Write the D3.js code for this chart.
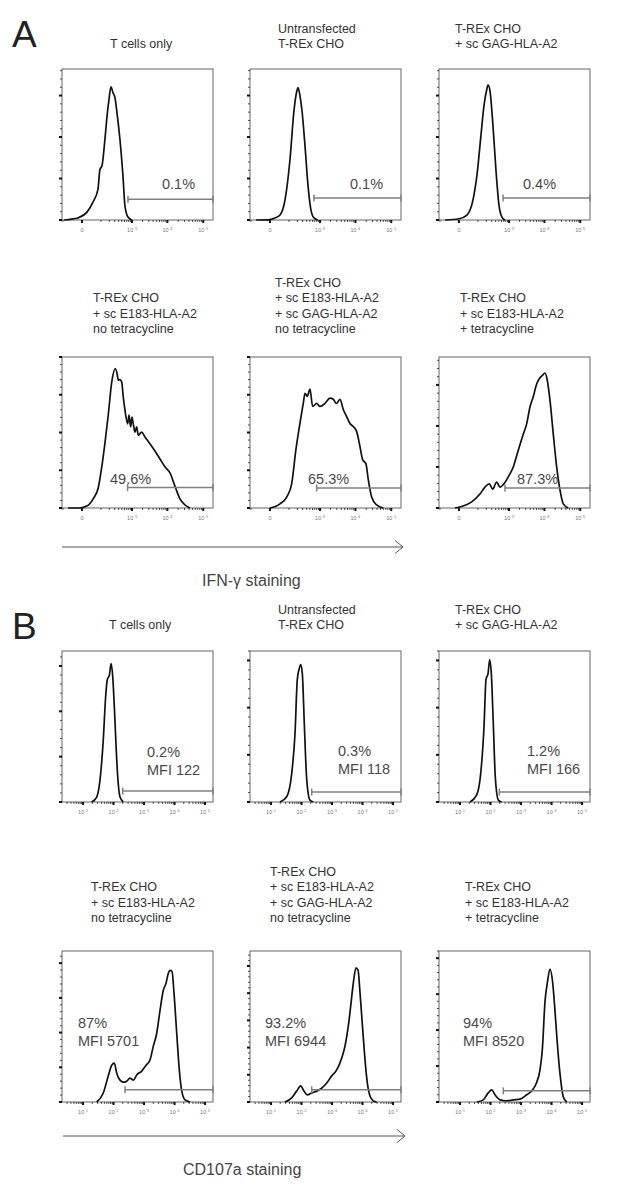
<!DOCTYPE html>
<html>
<head>
<meta charset="utf-8">
<script src="https://cdn.jsdelivr.net/npm/d3@7"></script>
<style>
body { margin: 0; background: #fff; }
svg { display: block; font-family: "Liberation Sans", Arial, sans-serif; }
</style>
</head>
<body>
<svg id="chart" width="625" height="1186"></svg>
<script>
// panel titles (same six conditions in both blocks)
const titles = [
    ["T cells only"],
    ["Untransfected", "T-REx CHO"],
    ["T-REx CHO", "+ sc GAG-HLA-A2"],
    ["T-REx CHO", "+ sc E183-HLA-A2", "no tetracycline"],
    ["T-REx CHO", "+ sc E183-HLA-A2", "+ sc GAG-HLA-A2", "no tetracycline"],
    ["T-REx CHO", "+ sc E183-HLA-A2", "+ tetracycline"]
]

// IFN-g histograms: [fluorescence, count in y-tick units]
const ifnTcells = [[-90,0],[-40,0.02],[-13,0.05],[16,0.19],[43,0.43],[75,0.74],[91,1.22],[109,1.3],[141,1.94],[167,2.49],[195,2.9],[228,3.21],[264,3.07],[306,2.95],[354,2.59],[438,1.94],[540,1.06],[619,0.34],[759,0.07],[994,0]]
const ifnUntransfected = [[-60,0],[0,0.01],[16,0.05],[38,0.12],[68,0.48],[109,1.44],[154,2.64],[195,3.12],[211,3.19],[245,3.0],[285,2.64],[354,1.8],[438,0.84],[540,0.24],[664,0.05],[860,0]]
const ifnGag = [[-60,0],[0,0.03],[28,0.12],[61,0.48],[91,1.08],[130,2.04],[167,2.76],[211,3.17],[228,3.26],[264,3.12],[329,2.28],[408,1.2],[504,0.36],[619,0.07],[759,0]]
const ifnE183 = [[-60,0],[-6,0],[15,0.05],[45,0.25],[77,0.53],[106,1.06],[141,1.72],[185,2.47],[240,3.32],[313,3.69],[362,3.53],[388,3.39],[438,3.4],[493,3.34],[551,2.94],[619,2.59],[745,2.23],[813,2.46],[911,2.15],[994,2.41],[1084,2.23],[1213,2.01],[1357,2.15],[1508,1.93],[1886,2.01],[2340,1.88],[2722,1.8],[3243,1.7],[4480,1.51],[6190,1.3],[8550,1.09],[11790,0.93],[16260,0.58],[22430,0.24],[30910,0.08],[42620,0]]
const ifnE183Gag = [[0,0],[38,0.11],[81,0.29],[127,0.64],[180,1.55],[245,2.24],[313,2.77],[354,3.04],[417,2.96],[504,3.15],[606,2.69],[796,2.77],[994,2.69],[1385,2.77],[1924,2.91],[2385,2.88],[2935,2.77],[3690,2.88],[4570,2.61],[5650,2.43],[7040,2.24],[8670,2.16],[10800,2.03],[13400,1.63],[15960,1.28],[19700,1.17],[22900,0.75],[28400,0.29],[39200,0.08],[59900,0]]
const ifnTet = [[-12,0],[13,0.05],[53,0.15],[119,0.34],[180,0.51],[251,0.59],[322,0.46],[429,0.63],[540,0.51],[710,0.59],[950,0.76],[1323,1.0],[1840,1.41],[2550,1.8],[3180,2.05],[3940,2.46],[4870,2.71],[6070,3.02],[7180,3.15],[8940,3.24],[10370,3.29],[12000,3.12],[14300,2.63],[17700,1.8],[22000,1.0],[27200,0.44],[33600,0.1],[46300,0]]

// CD107a histograms
const cdTcells = [[19.2,0],[28,0.11],[36,0.49],[46,1.37],[55,2.32],[62,2.69],[73,2.8],[83,3.05],[94,2.76],[106,2.1],[120,1.28],[137,0.55],[163,0.11],[209,0]]
const cdUntransfected = [[19.7,0],[32.6,0.11],[47.5,0.6],[61,1.45],[72.6,2.6],[84.4,2.83],[93.8,2.91],[106,2.72],[123,1.66],[148,0.47],[189,0.04],[243,0]]
const cdGag = [[21.2,0],[35.2,0.15],[47.5,0.6],[61,1.6],[71,2.6],[82.6,2.72],[93.8,3.02],[106,2.72],[123,1.66],[143,0.53],[180,0.04],[232,0]]
const cdE183 = [[28,0],[46,0.26],[67,0.75],[87,1.06],[106,1.12],[127,0.83],[163,0.63],[209,0.57],[270,0.6],[346,0.69],[444,0.63],[574,0.78],[838,0.89],[1159,1.06],[1567,1.21],[2010,1.61],[2600,1.98],[3334,2.64],[4276,3.22],[5250,3.42],[6240,3.71],[7100,3.79],[8260,3.76],[9600,3.13],[11770,1.98],[14320,0.92],[17180,0.32],[22030,0.06],[32140,0]]
const cdE183Gag = [[28.7,0],[47.5,0.15],[69,0.4],[93.8,0.59],[120,0.4],[154,0.26],[215,0.33],[314,0.4],[458,0.51],[668,0.7],[975,0.96],[1422,1.18],[2075,1.62],[2660,2.06],[3410,2.79],[4090,3.53],[4980,4.38],[6100,4.93],[7100,4.85],[8260,4.01],[10120,2.65],[12050,1.54],[14320,0.7],[17540,0.22],[22540,0.04],[29100,0]]
const cdTet = [[35.2,0],[57.8,0.06],[78.3,0.22],[109,0.34],[140,0.2],[204,0.06],[338,0.03],[557,0.06],[925,0.08],[1532,0.2],[2234,0.31],[3090,0.5],[4180,0.9],[4980,1.46],[6100,2.8],[7260,3.31],[8890,3.7],[10900,3.31],[12980,2.52],[15100,1.74],[18930,0.78],[24300,0.14],[31400,0]]

// y axis top per panel, in tick units
const ifnYMax = [3.64, 3.64, 3.64, 4.0, 4.0, 3.68]
const cdYMax = [3.33, 3.2, 3.2, 4.35, 5.55, 4.2]

// gates: start value and count level
const ifnGateStart = [760, 665, 665, 740, 796, 760]
const ifnGateLevel = [0.5, 0.53, 0.53, 0.54, 0.53, 0.49]
const cdGateStart = [200, 215, 194, 238, 215, 262]
const cdGateLevel = [0.24, 0.21, 0.21, 0.35, 0.45, 0.31]

const ifnPercent = ["0.1%", "0.1%", "0.4%", "49.6%", "65.3%", "87.3%"]
const cdPercent = ["0.2%", "0.3%", "1.2%", "87%", "93.2%", "94%"]
const cdMfi = ["MFI 122", "MFI 118", "MFI 166", "MFI 5701", "MFI 6944", "MFI 8520"]

const biexTicks = [0, 1e3, 1e4, 1e5]
const logTicks = [10, 100, 1e3, 1e4, 1e5]

// layout
const cols = [62, 250, 439]
const frameW = 151
const frameH = 151

const svg = d3.select('#chart')

class FlowPanel {
    constructor(x0, top, xScale, yMax) {
        this.x0 = x0
        this.top = top
        this.bottom = top + frameH
        this.x = xScale.copy().range([x0, x0 + frameW])
        this.y = d3.scaleLinear().domain([0, yMax]).range([this.bottom, top])
        this.g = svg.append('g')
    }
    renderFrame() {
        this.g.append('rect')
        .attr('x', this.x0)
        .attr('y', this.top)
        .attr('width', frameW)
        .attr('height', frameH)
        .attr('fill', 'none')
        .attr('stroke', '#555')
        .attr('stroke-width', 0.9)
    }
    renderYTicks() {
        const hi = this.y.domain()[1]
        const all = d3.range(0, hi + 1e-6, 0.2)
        const minor = all.filter(d => Math.abs(d - Math.round(d)) > 1e-6)
        const major = all.filter(d => Math.abs(d - Math.round(d)) <= 1e-6)
        this.g.append('g').selectAll('line').data(minor).join('line')
        .attr('x1', this.x0 - 2).attr('x2', this.x0)
        .attr('y1', d => this.y(d)).attr('y2', d => this.y(d))
        .attr('stroke', '#222').attr('stroke-width', 0.8)
        this.g.append('g').selectAll('line').data(major).join('line')
        .attr('x1', this.x0 - 3).attr('x2', this.x0)
        .attr('y1', d => this.y(d)).attr('y2', d => this.y(d))
        .attr('stroke', '#111').attr('stroke-width', 2)
    }
    renderXTicks(major, minor) {
        const [d0, d1] = this.x.domain()
        const inside = d => d >= d0 && d <= d1
        this.g.append('g').selectAll('line').data(minor.filter(inside)).join('line')
        .attr('x1', d => this.x(d)).attr('x2', d => this.x(d))
        .attr('y1', this.bottom).attr('y2', this.bottom + 2)
        .attr('stroke', '#222').attr('stroke-width', 0.8)
        this.g.append('g').selectAll('line').data(major).join('line')
        .attr('x1', d => this.x(d)).attr('x2', d => this.x(d))
        .attr('y1', this.bottom).attr('y2', this.bottom + 3)
        .attr('stroke', '#111').attr('stroke-width', 2)
        this.g.append('g').selectAll('text').data(major).join('text')
        .attr('x', d => this.x(d))
        .attr('y', this.bottom + 12)
        .attr('text-anchor', 'middle')
        .attr('font-size', 5.5)
        .attr('fill', '#777')
        .each(function(d) {
            const el = d3.select(this)
            if (d === 0) { el.text('0'); return }
            el.append('tspan').text('10 ')
            el.append('tspan').attr('dy', -2.5).attr('font-size', 4).text(Math.round(Math.log10(d)))
        })
    }
    renderCurve(points) {
        const line = d3.line()
        .x(d => this.x(d[0]))
        .y(d => this.y(d[1]))
        .curve(d3.curveMonotoneX)
        this.g.append('path')
        .attr('d', line(points))
        .attr('fill', 'none')
        .attr('stroke', '#111')
        .attr('stroke-width', 1.7)
        .attr('stroke-linejoin', 'round')
    }
    renderGate(start, level) {
        const x1 = this.x(start)
        const x2 = this.x(this.x.domain()[1])
        const yy = this.y(level)
        const gate = this.g.append('g')
        .attr('stroke', '#808080')
        .attr('stroke-width', 1.5)
        gate.append('line').attr('x1', x1).attr('x2', x2).attr('y1', yy).attr('y2', yy)
        gate.append('line').attr('x1', x1).attr('x2', x1).attr('y1', yy - 3.5).attr('y2', yy + 3.5)
        gate.append('line').attr('x1', x2).attr('x2', x2).attr('y1', yy - 3.5).attr('y2', yy + 3.5)
    }
    renderLabel(lines, dx, dy) {
        this.g.append('g').selectAll('text').data(lines).join('text')
        .attr('x', this.x0 + dx)
        .attr('y', (d, i) => this.top + dy + i * 17.5)
        .attr('font-size', 14.5)
        .attr('fill', '#4a4a4a')
        .text(d => d)
    }
}

function renderTitle(lines, x, lastBase) {
    svg.append('g').selectAll('text').data(lines).join('text')
    .attr('x', x)
    .attr('y', (d, i) => lastBase - (lines.length - 1 - i) * 15.5)
    .attr('font-size', 12.5)
    .attr('fill', '#333')
    .text(d => d)
}

function renderArrow(x1, x2, y, caption, captionX) {
    const g = svg.append('g').attr('stroke', '#555').attr('stroke-width', 1).attr('fill', 'none')
    g.append('line').attr('x1', x1).attr('x2', x2).attr('y1', y).attr('y2', y)
    g.append('path').attr('d', `M${x2 - 8},${y - 6.5}L${x2},${y}L${x2 - 8},${y + 6.5}`)
    svg.append('text')
    .attr('x', captionX)
    .attr('y', y + 39)
    .attr('font-size', 16)
    .attr('fill', '#444')
    .text(caption)
}

function renderBlock(cfg) {
    svg.append('text')
    .attr('x', 12)
    .attr('y', cfg.letterY)
    .attr('font-size', 37)
    .attr('fill', '#222')
    .text(cfg.letter)
    cfg.curves.forEach((curve, i) => {
        const row = Math.floor(i / 3)
        const col = i % 3
        const p = new FlowPanel(cols[col], cfg.tops[row], cfg.scale, cfg.yMax[i])
        p.renderFrame()
        p.renderYTicks()
        p.renderXTicks(cfg.ticks, cfg.minorTicks)
        p.renderCurve(curve)
        p.renderGate(cfg.gateStart[i], cfg.gateLevel[i])
        p.renderLabel(cfg.labels[i], cfg.labelPos[i][0], cfg.labelPos[i][1])
        renderTitle(titles[i], cfg.titleX[i], cfg.titleBase[row])
    })
    renderArrow(cfg.arrow[0], cfg.arrow[1], cfg.arrow[2], cfg.caption, cfg.captionX)
}

const biexMinor = [-100].concat(d3.range(100, 1000, 100), d3.range(2e3, 1e4, 1e3), d3.range(2e4, 1e5, 1e4), [2e5])
const logMinor = [3, 4, 5, 6, 7, 8, 9].concat(d3.range(20, 100, 10), d3.range(200, 1000, 100), d3.range(2e3, 1e4, 1e3), d3.range(2e4, 1e5, 1e4))

renderBlock({
    letter: 'A',
    letterY: 47,
    scale: d3.scaleSymlog().constant(42).domain([-109, 186700]),
    ticks: biexTicks,
    minorTicks: biexMinor,
    tops: [69, 357],
    curves: [ifnTcells, ifnUntransfected, ifnGag, ifnE183, ifnE183Gag, ifnTet],
    yMax: ifnYMax,
    gateStart: ifnGateStart,
    gateLevel: ifnGateLevel,
    labels: ifnPercent.map(d => [d]),
    labelPos: [[100, 120], [100, 120], [84, 120], [48, 127], [58, 127], [78, 127]],
    titleX: [110, 278, 455, 93, 275, 460],
    titleBase: [48, 333],
    arrow: [62, 403, 547],
    caption: 'IFN-\u03b3 staining',
    captionX: 202
})

renderBlock({
    letter: 'B',
    letterY: 639,
    scale: d3.scaleLog().domain([2.04, 182000]),
    ticks: logTicks,
    minorTicks: logMinor,
    tops: [651, 951],
    curves: [cdTcells, cdUntransfected, cdGag, cdE183, cdE183Gag, cdTet],
    yMax: cdYMax,
    gateStart: cdGateStart,
    gateLevel: cdGateLevel,
    labels: cdPercent.map((d, i) => [d, cdMfi[i]]),
    labelPos: [[85, 106], [88, 105], [88, 105], [16, 77], [15, 77], [24, 77]],
    titleX: [109, 278, 455, 91, 270, 465],
    titleBase: [629, 922],
    arrow: [63, 405, 1136],
    caption: 'CD107a staining',
    captionX: 183
})
</script>
</body>
</html>
